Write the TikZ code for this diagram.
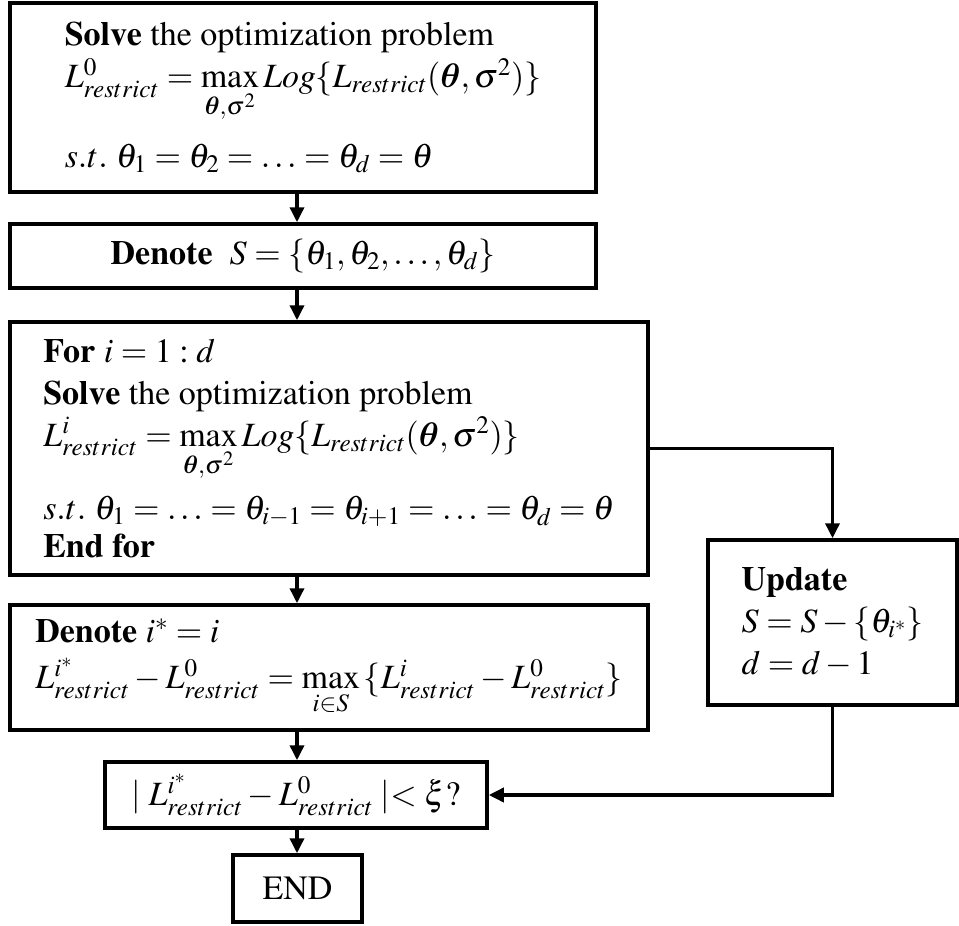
\documentclass[tikz,border=0pt]{standalone}
\usepackage{fix-cm}
\usepackage[T1]{fontenc}
\usepackage{mathptmx}
\usepackage{amsmath}
\usetikzlibrary{arrows.meta}

% bold theta taken from the CM bold math italic
\DeclareSymbolFont{boldletters}{OML}{cmm}{b}{it}
\DeclareMathSymbol{\btheta}{\mathord}{boldletters}{"12}

\tikzset{
  block/.style={draw, rectangle, line width=3.5pt, align=left, inner sep=0pt,
    font=\fontsize{34}{42}\selectfont},
  link/.style={line width=3.5pt, -{Triangle[length=15pt,width=14pt]}},
}

\begin{document}
\begin{tikzpicture}[x=1pt,y=-1pt]
    \useasboundingbox (0,0) rectangle (959,926);
    \coordinate (spine) at (297,0);

    % main column
    \node[block, minimum width=586pt, minimum height=189pt] (solve0) at (303,97.5)
      {\textbf{Solve} the optimization problem\\
       $L^0_{restrict}=\max\limits_{\btheta,\sigma^2}Log\{L_{restrict}(\btheta,\sigma^2)\}$\\[20pt]
       $s.t.\ \theta_1=\theta_2=\ldots=\theta_d=\theta$};
    \node[block, minimum width=586pt, minimum height=64pt] (denote) at (303,256)
      {\textbf{Denote} \ $S=\{\theta_1,\theta_2,\ldots,\theta_d\}$};
    \node[block, minimum width=638pt, minimum height=253pt] (loop) at (329,448.5)
      {\textbf{For} $i=1:d$\\
       \textbf{Solve} the optimization problem\\
       $L^i_{restrict}=\max\limits_{\btheta,\sigma^2}Log\{L_{restrict}(\btheta,\sigma^2)\}$\\[14pt]
       $s.t.\ \theta_1=\ldots=\theta_{i-1}=\theta_{i+1}=\ldots=\theta_d=\theta$\\[-4pt]
       \textbf{End for}};
    \node[block, minimum width=638pt, minimum height=125pt] (pick) at (329,667.5)
      {\textbf{Denote} $i^*=i$\\[4pt]
       $L^{i^*}_{restrict}-L^0_{restrict}=\max\limits_{i\in S}\,\{L^i_{restrict}-L^0_{restrict}\}$};
    \node[block, minimum width=382pt, minimum height=66pt] (check) at (296,795)
      {$\mid L^{i^*}_{restrict}-L^0_{restrict}\mid<\xi?$};
    \node[block, minimum width=129pt, minimum height=67pt] (stop) at (297.5,888.5) {END};

    % side box
    \node[block, minimum width=249pt, minimum height=165pt] (update) at (832.5,622.5)
      {\textbf{Update}\\
       $S=S-\{\theta_{i^*}\}$\\
       $d=d-1$};

    % connectors
    \draw[link] (solve0.south -| spine) -- (denote.north -| spine);
    \draw[link] (denote.south -| spine) -- (loop.north -| spine);
    \draw[link] (loop.south -| spine) -- (pick.north -| spine);
    \draw[link] (pick.south -| spine) -- (check.north -| spine);
    \draw[link] (check.south -| spine) -- (stop.north -| spine);
    \draw[link] (loop.east) -| (update.north);
    \draw[link] (update.south) |- (check.east);
\end{tikzpicture}
\end{document}
